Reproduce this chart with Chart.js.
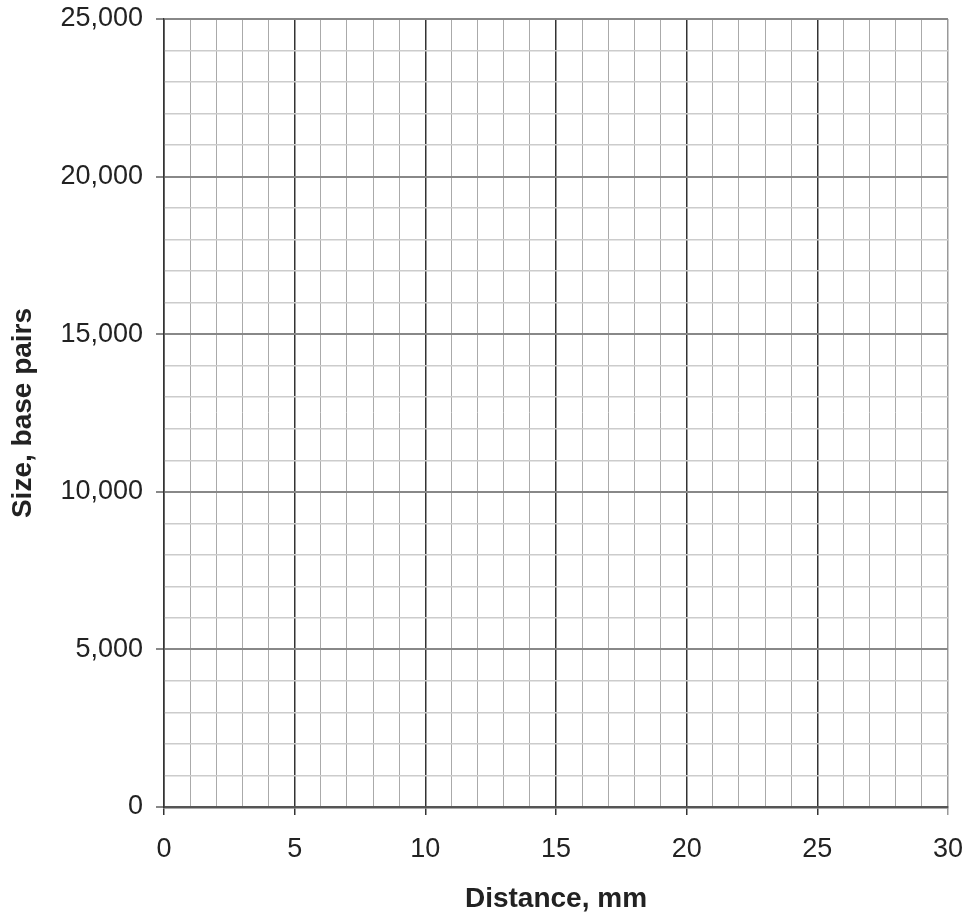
<!DOCTYPE html>
<html>
<head>
<meta charset="utf-8">
<script src="https://cdn.jsdelivr.net/npm/chart.js@4"></script>
<style>
    html, body { margin: 0; padding: 0; background: #fff; }
    #wrap { width: 967px; height: 920px; position: relative; }
</style>
</head>
<body>
<div id="wrap"><canvas id="chart"></canvas></div>
<script>
    // axis ranges and labelled ticks (blank graph paper, no data points)
    var xRange = [0, 30];
    var yRange = [0, 25000];
    var xMinorStep = 1;
    var yMinorStep = 1000;
    var xLabels = [0, 5, 10, 15, 20, 25, 30];
    var yLabels = [0, 5000, 10000, 15000, 20000, 25000];
    var points = [];

    var xTitle = 'Distance, mm';
    var yTitle = 'Size, base pairs';

    function isMajorX(v) { return xLabels.indexOf(v) !== -1; }
    function isMajorY(v) { return yLabels.indexOf(v) !== -1; }

    var ctx = document.getElementById('chart').getContext('2d');
    new Chart(ctx, {
        type: 'scatter',
        data: {
            datasets: [{
                data: points,
                pointRadius: 0
            }]
        },
        options: {
            responsive: true,
            maintainAspectRatio: false,
            animation: false,
            layout: { padding: { top: 19, right: 19, left: 0, bottom: 0 } },
            plugins: {
                legend: { display: false },
                tooltip: { enabled: false }
            },
            scales: {
                x: {
                    type: 'linear',
                    min: xRange[0],
                    max: xRange[1],
                    afterFit: function(scale) {
                        scale.height = 113;
                        scale.paddingLeft = 0;
                        scale.paddingRight = 0;
                    },
                    ticks: {
                        stepSize: xMinorStep,
                        autoSkip: false,
                        maxRotation: 0,
                        padding: 18,
                        color: '#222',
                        font: { family: 'Liberation Sans, Arial, sans-serif', size: 27 },
                        callback: function(v) { return isMajorX(v) ? String(v) : ''; }
                    },
                    grid: {
                        drawTicks: true,
                        tickLength: 8,
                        color: function(c) {
                            var v = c.tick.value;
                            if (v === 30) return '#999';
                            return isMajorX(v) ? '#333' : '#aaa';
                        },
                        lineWidth: function(c) { return isMajorX(c.tick.value) ? 1.5 : 1; },
                        tickColor: function(c) {
                            var v = c.tick.value;
                            if (!isMajorX(v)) return 'rgba(0,0,0,0)';
                            return v === 30 ? '#999' : '#333';
                        },
                        tickWidth: 1.5
                    },
                    border: { display: true, color: '#555', width: 2.5 },
                    title: {
                        display: true,
                        text: xTitle,
                        color: '#222',
                        padding: { top: 4, bottom: 4 },
                        font: { family: 'Liberation Sans, Arial, sans-serif', size: 28, weight: 'bold' }
                    }
                },
                y: {
                    type: 'linear',
                    min: yRange[0],
                    max: yRange[1],
                    afterFit: function(scale) {
                        scale.width = 164;
                        scale.paddingTop = 0;
                        scale.paddingBottom = 0;
                    },
                    ticks: {
                        stepSize: yMinorStep,
                        autoSkip: false,
                        padding: 13,
                        color: '#222',
                        font: { family: 'Liberation Sans, Arial, sans-serif', size: 27 },
                        callback: function(v) { return isMajorY(v) ? v.toLocaleString('en-US') : ''; }
                    },
                    grid: {
                        drawTicks: true,
                        tickLength: 8,
                        color: function(c) { return isMajorY(c.tick.value) ? '#888' : '#ccc'; },
                        lineWidth: function(c) { return isMajorY(c.tick.value) ? 2 : 1.5; },
                        tickColor: function(c) { return isMajorY(c.tick.value) ? '#888' : 'rgba(0,0,0,0)'; },
                        tickWidth: 2
                    },
                    border: { display: true, color: '#333', width: 1.5 },
                    title: {
                        display: true,
                        text: yTitle,
                        color: '#222',
                        padding: { top: 6, bottom: 0 },
                        font: { family: 'Liberation Sans, Arial, sans-serif', size: 28, weight: 'bold' }
                    }
                }
            }
        }
    });
</script>
</body>
</html>
